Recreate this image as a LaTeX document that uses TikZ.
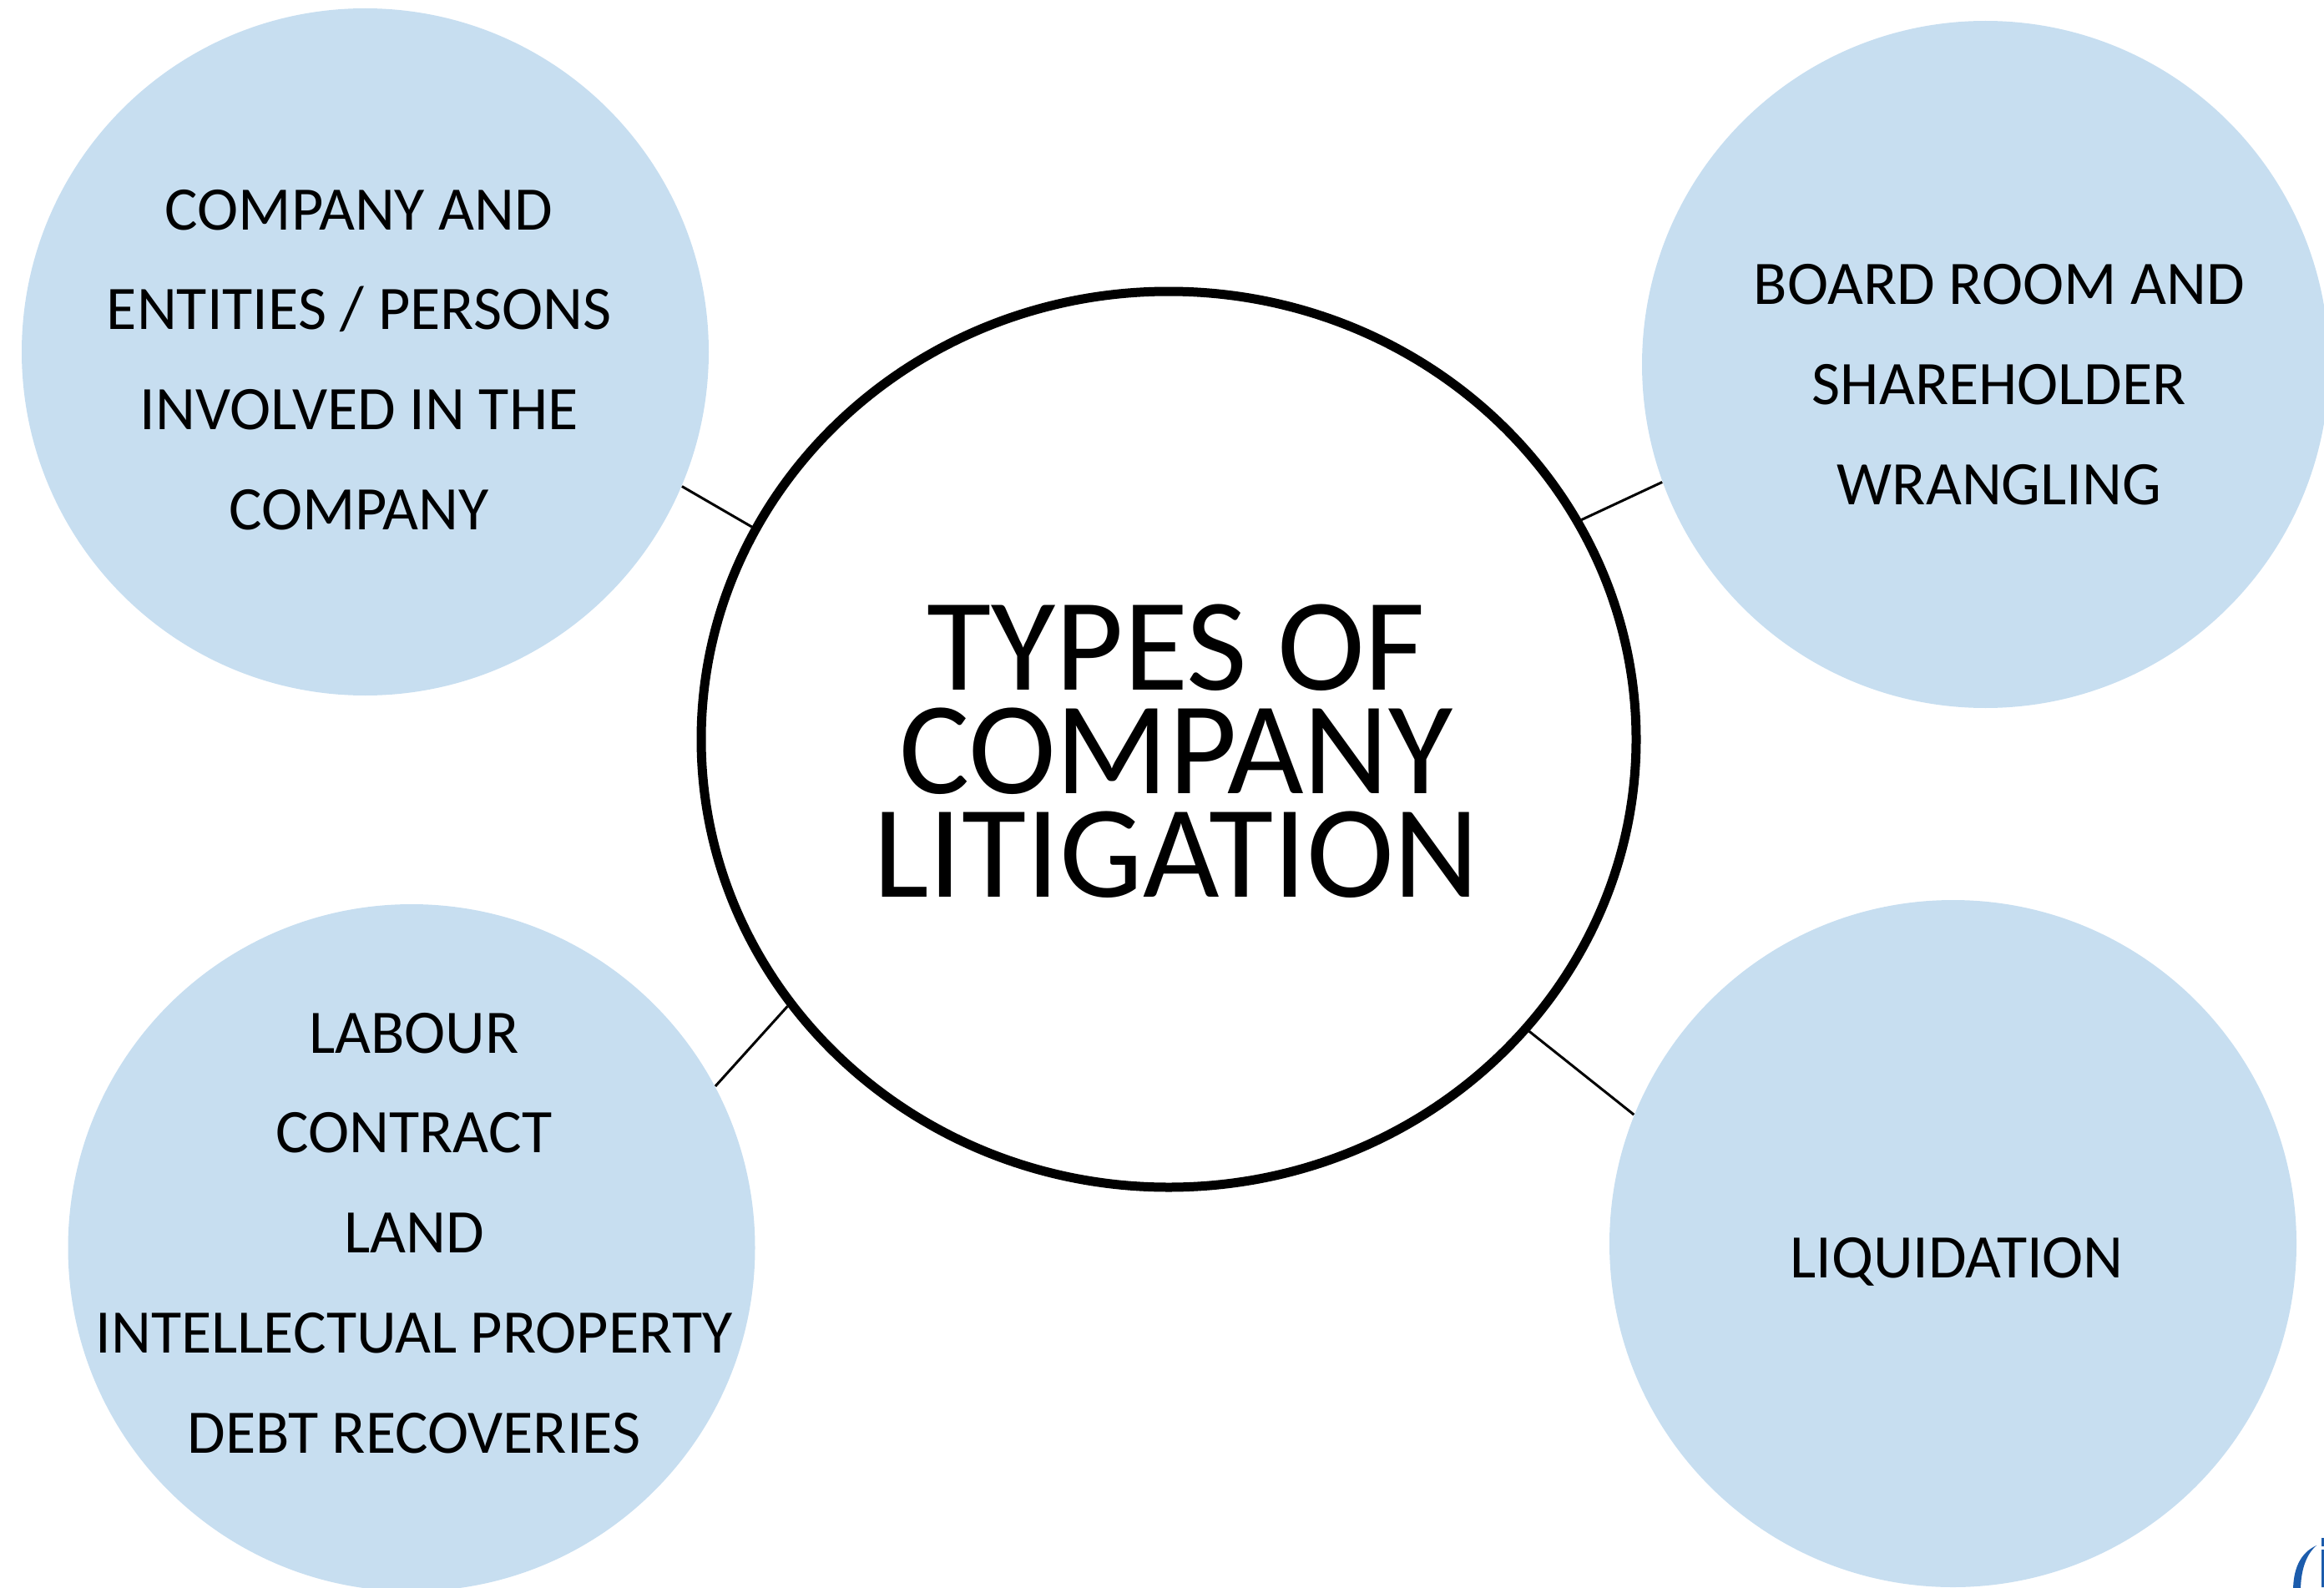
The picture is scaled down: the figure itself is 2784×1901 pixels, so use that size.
\documentclass[tikz,border=0pt]{standalone}
\usepackage{fontspec}
\setmainfont{Carlito}
\usetikzlibrary{shapes.geometric}

\definecolor{bubblefill}{RGB}{199,222,240}
\definecolor{logoblue}{RGB}{28,92,172}

\tikzset{
    bubble/.style={circle, fill=bubblefill, minimum size=82.3mm, inner sep=0pt},
    topic/.style={align=center, font=\fontsize{21.1}{34.1}\selectfont},
    link/.style={line width=0.3mm},
}

\begin{document}
\begin{tikzpicture}[x=0.1mm, y=-0.1mm]
    \useasboundingbox (0, 0) rectangle (2784, 1901);
    \path (437.5, 421.5) node [bubble] (co) {};
    \path (430, 431) node [topic] (cotext) {COMPANY AND\\ENTITIES / PERSONS\\INVOLVED IN THE\\COMPANY};
    \path (2378.5, 436.5) node [bubble] (br) {};
    \path (2395, 461) node [topic] (brtext) {BOARD ROOM AND\\SHAREHOLDER\\WRANGLING};
    \path (493, 1494.5) node [bubble] (la) {};
    \path (496, 1477) node [topic] (latext) {LABOUR\\CONTRACT\\LAND\\INTELLECTUAL PROPERTY\\DEBT RECOVERIES};
    \path (2339.5, 1489.5) node [bubble] (li) {};
    \path (2344, 1511) node [topic] (litext) {LIQUIDATION};
    \path (1400, 885.5) node [ellipse, draw, line width=1.1mm, minimum width=112mm, minimum height=107.3mm] (hub) {};
    \path (1409, 900) node [align=center, font=\fontsize{45}{35.3}\selectfont] (title) {TYPES OF\\COMPANY\\LITIGATION};
    \draw [link] (co.-23.4) -- (hub.153.6);
    \draw [link] (hub.28) -- (br.-160.5);
    \draw [link] (hub.215.1) -- (la.28.7);
    \draw [link] (hub.-39.6) -- (li.158.9);
    \fill [logoblue] (2775, 1851) .. controls (2755, 1860) and (2747, 1880) .. (2747, 1905) -- (2756, 1905) .. controls (2756, 1882) and (2762, 1862) .. (2775, 1851);
    \fill [logoblue] (2781, 1842) rectangle (2784, 1852) (2781, 1856) rectangle (2784, 1901);
\end{tikzpicture}
\end{document}
